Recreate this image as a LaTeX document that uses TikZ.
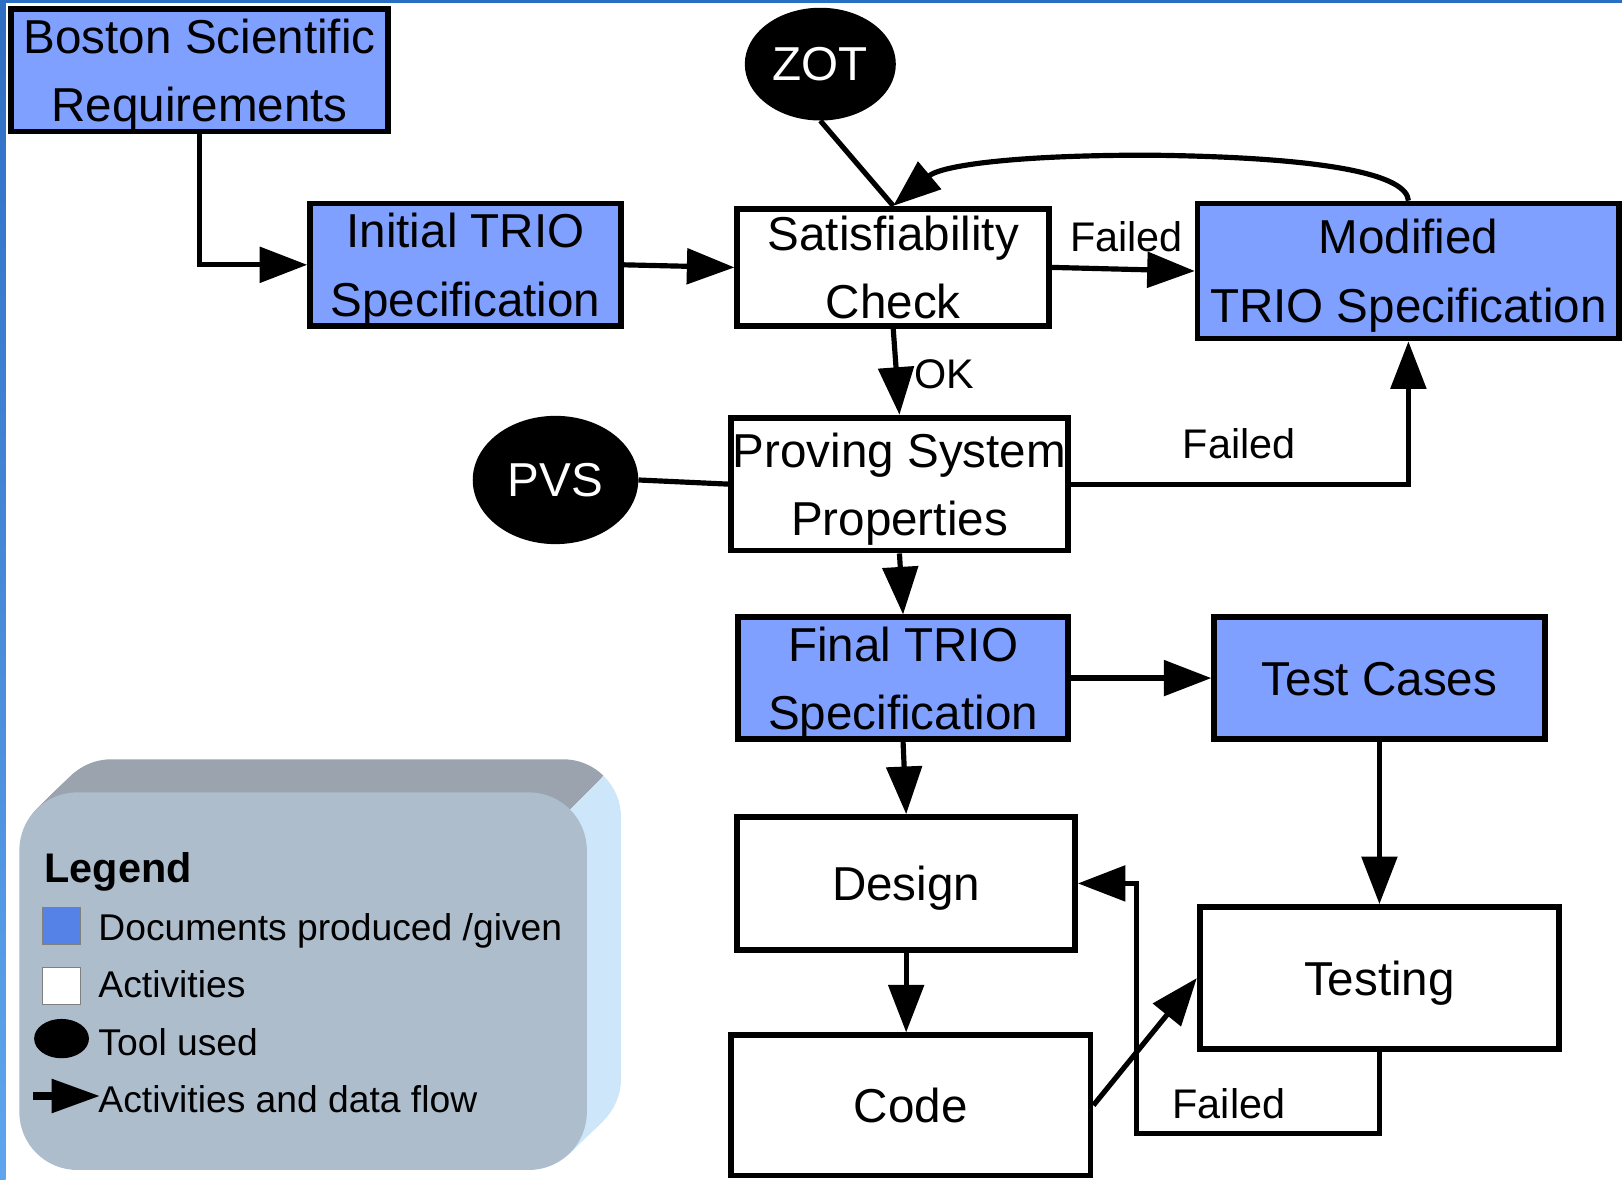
\documentclass[tikz,border=0pt]{standalone}
\usepackage{fontspec}
\setmainfont{Liberation Sans}
\usetikzlibrary{arrows.meta,shapes.geometric,calc}
\definecolor{docblue}{RGB}{128,160,255}
\definecolor{legfront}{RGB}{173,189,204}
\definecolor{legtop}{RGB}{155,163,175}
\definecolor{legside}{RGB}{205,230,250}
\definecolor{legblue}{RGB}{85,130,230}
\definecolor{frameblue}{RGB}{40,110,195}
\definecolor{stripetop}{RGB}{45,110,195}
\definecolor{stripebot}{RGB}{95,165,238}
\newcommand{\lstr}{\rule[-12pt]{0pt}{57pt}}
\begin{document}
\begin{tikzpicture}[x=1pt,y=-1pt,
  box/.style={rectangle, draw=black, line width=5.5pt, inner xsep=0pt, inner ysep=-12pt, align=center, font=\fontsize{46}{66}\selectfont},
  doc/.style={box, fill=docblue},
  act/.style={box, fill=white},
  tool/.style={ellipse, fill=black, inner sep=0pt, text=white, font=\fontsize{46}{55}\selectfont},
  flow/.style={line width=5pt, -{Triangle[length=46pt,width=34pt]}},
  plain/.style={line width=5pt},
  lbl/.style={font=\fontsize{40}{48}\selectfont, inner sep=0pt},
  legtxt/.style={font=\fontsize{36}{43}\selectfont, inner sep=0pt, anchor=base west},
  legface/.style={rounded corners=56pt}
]
\useasboundingbox (0,0) rectangle (1568,1140);
\fill[white] (0,0) rectangle (1568,1140);
\fill[frameblue] (0,0) rectangle (1568,2.5);
\shade[top color=stripetop, bottom color=stripebot] (0,0) rectangle (5.5,1140);

% legend panel: extruded rounded box
\begin{scope}
  \clip (733,600) -- (1000,600) -- (1000,1200) -- (133,1200) -- cycle;
  \foreach \i in {1,...,33} {
    \fill[legside, legface] ($(18.7,766)+(\i,-0.97*\i)$) rectangle ($(567.3,1131)+(\i,-0.97*\i)$);
  }
\end{scope}
\begin{scope}
  \clip (0,600) -- (733,600) -- (133,1200) -- (0,1200) -- cycle;
  \foreach \i in {1,...,33} {
    \fill[legtop, legface] ($(18.7,766)+(\i,-0.97*\i)$) rectangle ($(567.3,1131)+(\i,-0.97*\i)$);
  }
\end{scope}
\fill[legfront, legface] (18.7,766) rectangle (567.3,1131);

\node[legtxt, font=\bfseries\fontsize{40}{48}\selectfont] (lgt) at (43,853) {Legend};
\node[draw=gray, line width=1pt, fill=legblue, minimum size=36pt, inner sep=0pt] (lgdoc) at (59.5,895.5) {};
\node[legtxt] (lgdoct) at (95,909) {Documents produced /given};
\node[draw=gray, line width=1pt, fill=white, minimum size=36pt, inner sep=0pt] (lgact) at (59.5,953) {};
\node[legtxt] (lgactt) at (95,964) {Activities};
\node[ellipse, fill=black, minimum width=53pt, minimum height=38pt, inner sep=0pt] (lgtool) at (59.5,1004) {};
\node[legtxt] (lgtoolt) at (95,1020) {Tool used};
\coordinate (la1) at (32,1059.5);
\coordinate (la2) at (97,1059.5);
\draw[line width=8pt, -{Triangle[length=47pt,width=31pt]}] (la1) -- (la2);
\node[legtxt] (lgflow) at (95,1075) {Activities and data flow};

% main nodes
\node[doc, minimum width=364.5pt, minimum height=118.5pt] (bsr) at (193,68) {\lstr Boston Scientific\\\lstr Requirements};
\node[doc, minimum width=300.5pt, minimum height=118.5pt] (init) at (450,256) {\lstr Initial TRIO\\\lstr Specification};
\node[act, minimum width=301.5pt, minimum height=113.5pt] (sat) at (863.5,258.5) {\lstr Satisfiability\\\lstr Check};
\node[doc, minimum width=407.5pt, minimum height=130.5pt] (mod) at (1361.5,262) {\lstr Modified\\\lstr TRIO Specification};
\node[act, minimum width=325.5pt, minimum height=128.5pt] (prov) at (869.5,468) {\lstr Proving System\\\lstr Properties};
\node[doc, minimum width=318.5pt, minimum height=117.5pt] (fin) at (873,655.5) {\lstr Final TRIO\\\lstr Specification};
\node[doc, minimum width=319.5pt, minimum height=117.5pt] (test) at (1333.5,655.5) {\lstr Test Cases};
\node[act, minimum width=326.5pt, minimum height=128.5pt] (des) at (876,854) {\lstr Design};
\node[act, minimum width=347.5pt, minimum height=137.5pt] (testing) at (1333.5,945.5) {\lstr Testing};
\node[act, minimum width=347.5pt, minimum height=135.5pt] (code) at (880.5,1068.5) {\lstr Code};
\node[tool, minimum width=146pt, minimum height=109pt] (zot) at (793,62) {ZOT};
\node[tool, minimum width=160pt, minimum height=124pt] (pvs) at (537,464) {PVS};

% connectors
\draw[flow] (bsr.south) |- (init.west);
\draw[flow] (init.east) -- (sat.west);
\draw[plain] (zot.south) -- (sat.north);
\coordinate (ctop) at (1110,150);
\draw[flow] (mod.north) .. controls (1360,170) and (1290,152) .. (ctop) .. controls (980,150) and (910,160) .. (sat.north);
\draw[flow] (sat.east) -- (mod.west);
\node[lbl] (f1) at (1089,229) {Failed};
\draw[flow] (sat.south) -- (prov.north);
\node[lbl] (ok) at (913,362) {OK};
\draw[plain] (pvs.east) -- (prov.west);
\draw[flow] (prov.east) -| (mod.south);
\node[lbl] (f2) at (1198,429) {Failed};
\draw[flow] (prov.south) -- (fin.north);
\draw[flow] (fin.east) -- (test.west);
\draw[flow] (fin.south) -- (des.north);
\draw[flow] (test.south) -- (testing.north);
\draw[flow] (des.south) -- (des.south |- code.north);
\draw[flow] (code.east) -- (testing.west);
\coordinate (fb) at (1099,1096);
\draw[flow] (testing.south) |- (fb) |- (des.east);
\node[lbl] (f3) at (1188,1067) {Failed};
\end{tikzpicture}
\end{document}
